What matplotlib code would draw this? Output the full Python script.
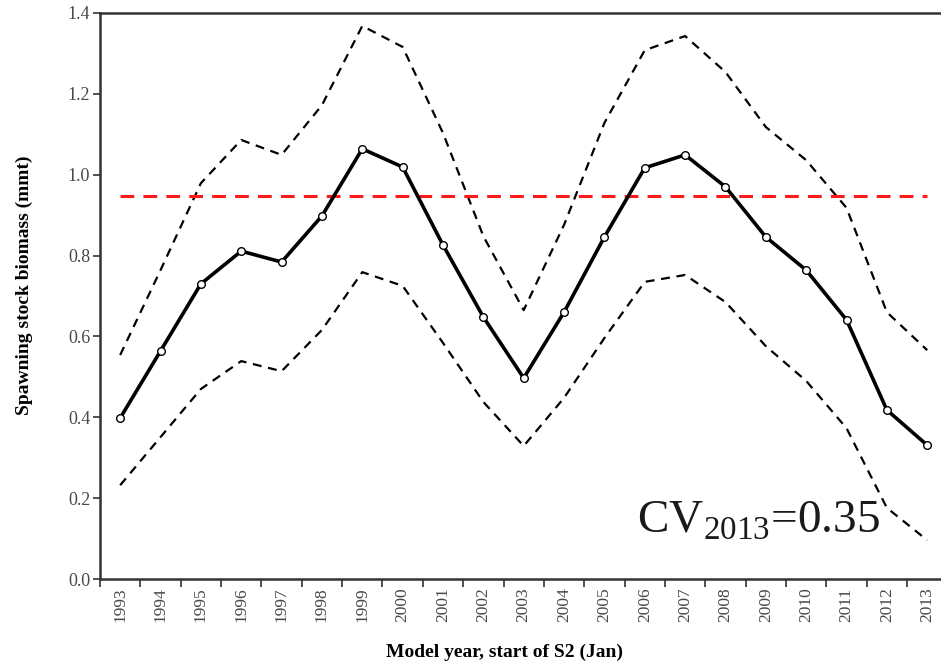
import matplotlib
matplotlib.use("Agg")
import matplotlib.pyplot as plt
import numpy as np

years = [str(y) for y in range(1993, 2014)]
ssb = [0.398, 0.564, 0.730, 0.811, 0.784, 0.898, 1.064, 1.019, 0.826, 0.648, 0.497,
       0.660, 0.846, 1.017, 1.049, 0.970, 0.846, 0.764, 0.641, 0.418, 0.331]
upper = [0.554, 0.764, 0.979, 1.086, 1.049, 1.172, 1.368, 1.316, 1.103, 0.848, 0.665,
         0.876, 1.128, 1.308, 1.343, 1.254, 1.118, 1.036, 0.918, 0.660, 0.566]
lower = [0.232, 0.351, 0.470, 0.539, 0.514, 0.616, 0.759, 0.725, 0.584, 0.438, 0.329,
         0.448, 0.596, 0.735, 0.752, 0.685, 0.576, 0.490, 0.373, 0.176, 0.096]
reference = 0.947
yticks = [0.0, 0.2, 0.4, 0.6, 0.8, 1.0, 1.2, 1.4]

plt.rcParams['font.family'] = ['Liberation Serif', 'DejaVu Serif']
plt.rcParams['mathtext.fontset'] = 'custom'
plt.rcParams['mathtext.rm'] = 'Liberation Serif'

fig = plt.figure(figsize=(9.41, 6.64), dpi=100)
ax = fig.add_axes([100/941, 85/664, 847.4/941, 566/664])

x = np.arange(len(years))
ax.plot(x, upper, color='black', lw=1.6, ls=(0, (4, 3)))
ax.plot(x, lower, color='black', lw=1.6, ls=(0, (4, 3)))
ax.hlines(reference, x[0], x[-1], colors='#ff1a1a', lw=2.2, linestyles=(0, (4.5, 3)))
ax.plot(x, ssb, color='black', lw=2.6, marker='o', ms=5.5, mfc='white', mec='black', mew=1.0)

ax.set_xlim(-0.5, len(years) - 0.5)
ax.set_ylim(0, 1.4)
ax.set_yticks(yticks)
ax.set_yticklabels([f"{v:.1f}" for v in yticks], fontsize=13, color='#484848')
ax.set_xticks(x)
ax.set_xticklabels(years, rotation=90, fontsize=12.5, color='#484848')
ax.set_xticks(np.arange(-0.5, len(years), 1.0), minor=True)
ax.tick_params(axis='x', which='major', length=0, pad=6)
ax.tick_params(axis='x', which='minor', length=6, width=1.2, color='#333333', direction='out')
ax.tick_params(axis='y', length=5, width=1.2, color='#333333', direction='out', pad=2)

for s in ['left', 'bottom', 'top', 'right']:
    ax.spines[s].set_color('#333333')
    ax.spines[s].set_linewidth(1.8)

ax.set_ylabel('Spawning stock biomass (mmt)', fontsize=14, fontweight='bold')
ax.set_xlabel('Model year, start of S2 (Jan)', fontsize=14, fontweight='bold')
ax.xaxis.set_label_coords((505-100)/847.4, -(652-579)/566)
ax.xaxis.label.set_va('center')
ax.yaxis.set_label_coords(-(100-24)/847.4, (579-285)/566)
ax.yaxis.label.set_va('center')

ax.text(637/941, (664-532)/664, r'CV$_{\mathrm{2013}}$=0.35', transform=fig.transFigure,
        fontsize=34, color='#1a1a1a', ha='left', va='baseline')

fig.savefig('out.png', dpi=100)
